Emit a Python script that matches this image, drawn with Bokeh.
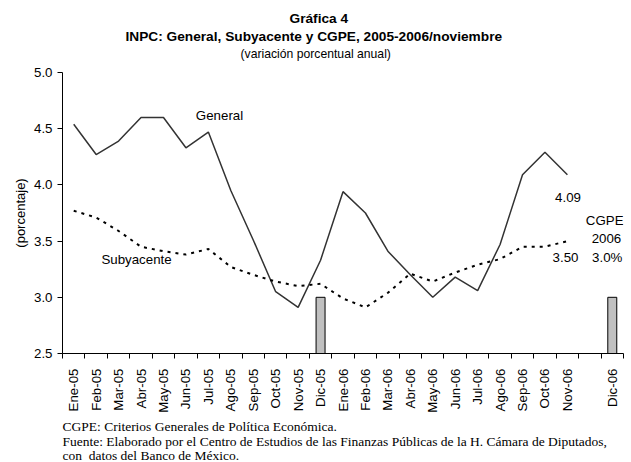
import math
from bokeh.plotting import figure
from bokeh.models import Range1d, FixedTicker, Label, PrintfTickFormatter, Title
from bokeh.embed import file_html
from bokeh.resources import INLINE

# ---------------- data ----------------
meses = ["Ene-05", "Feb-05", "Mar-05", "Abr-05", "May-05", "Jun-05", "Jul-05",
         "Ago-05", "Sep-05", "Oct-05", "Nov-05", "Dic-05",
         "Ene-06", "Feb-06", "Mar-06", "Abr-06", "May-06", "Jun-06", "Jul-06",
         "Ago-06", "Sep-06", "Oct-06", "Nov-06", "", "Dic-06"]
general = [4.54, 4.27, 4.39, 4.60, 4.60, 4.33, 4.47, 3.95, 3.51, 3.05, 2.91, 3.33,
           3.94, 3.75, 3.41, 3.20, 3.00, 3.18, 3.06, 3.47, 4.09, 4.29, 4.09]
subyacente = [3.77, 3.71, 3.59, 3.45, 3.41, 3.38, 3.43, 3.27, 3.20, 3.14, 3.10, 3.12,
              2.99, 2.91, 3.04, 3.21, 3.14, 3.22, 3.29, 3.34, 3.45, 3.45, 3.50]
cgpe_meses = ["Dic-05", "Dic-06"]
cgpe = [3.0, 3.0]
y_ticks = [2.5, 3.0, 3.5, 4.0, 4.5, 5.0]

# ---------------- geometry helpers (picture px -> data) ----------------
FR_L, FR_B, W_FR, H_FR = 62.0, 353.0, 561.0, 281.0
NX = len(meses)
Y0, Y1 = 2.5, 5.0
def dx(px):
    return (px - FR_L) / (W_FR / NX)
def dy(py):
    return Y0 + (FR_B - py) / (H_FR / (Y1 - Y0))

FONT = "Liberation Sans"
SERIF = "Liberation Serif"
FS = "13.3px"

p = figure(width=631, height=462, output_backend="svg", toolbar_location=None,
           x_range=Range1d(0, NX), y_range=Range1d(Y0, Y1),
           min_border_left=62, min_border_right=8, min_border_top=72, min_border_bottom=109)
p.outline_line_color = None
p.xgrid.visible = False
p.ygrid.visible = False
p.background_fill_color = "white"
p.border_fill_color = "white"

xs_gen = [i + 0.5 for i in range(len(general))]
xs_sub = [i + 0.5 for i in range(len(subyacente))]
xs_cgpe = [meses.index(m) + 0.5 for m in cgpe_meses]

p.vbar(x=xs_cgpe, top=cgpe, bottom=Y0, width=0.4, fill_color="#C0C0C0",
       line_color="black", line_width=1)
p.line(xs_gen, general, line_color="#333333", line_width=1.5)
p.line(xs_sub, subyacente, line_color="black", line_width=2, line_dash="3 5")

# x axis
xt = [i + 0.5 for i, m in enumerate(meses) if m]
p.xaxis.ticker = FixedTicker(ticks=xt, minor_ticks=list(range(NX + 1)))
p.xaxis.major_label_overrides = {i + 0.5: m for i, m in enumerate(meses) if m}
p.xaxis.major_label_orientation = math.pi / 2
p.xaxis.major_tick_line_color = None
p.xaxis.major_tick_out = 0
p.xaxis.major_tick_in = 0
p.xaxis.minor_tick_out = 5
p.xaxis.minor_tick_in = 0
p.xaxis.minor_tick_line_color = "black"
p.xaxis.major_label_standoff = 10
p.xaxis.major_label_text_font = FONT
p.xaxis.major_label_text_font_size = FS
p.xaxis.major_label_text_color = "black"
p.xaxis.axis_line_color = "black"

# y axis
p.yaxis.ticker = FixedTicker(ticks=y_ticks, minor_ticks=[])
p.yaxis.formatter = PrintfTickFormatter(format="%.1f")
p.yaxis.major_tick_out = 5
p.yaxis.major_tick_in = 0
p.yaxis.major_tick_line_color = "black"
p.yaxis.axis_line_color = "black"
p.yaxis.major_label_text_font = FONT
p.yaxis.major_label_text_font_size = FS
p.yaxis.major_label_text_color = "black"
p.yaxis.major_label_standoff = 5
p.yaxis.axis_label = "(porcentaje)"
p.yaxis.axis_label_text_font = FONT
p.yaxis.axis_label_text_font_size = "13px"
p.yaxis.axis_label_text_font_style = "normal"
p.yaxis.axis_label_text_color = "black"
p.yaxis.axis_label_standoff = 3

def lab(x, y, text, align="center"):
    p.add_layout(Label(x=x, y=y, text=text, text_font=FONT, text_font_size=FS,
                       text_align=align, text_baseline="middle", text_color="black"))

# annotations inside the plot
lab(dx(219), dy(115), "General")
lab(dx(136), dy(259), "Subyacente")
lab(dx(567.5), dy(197), f"{general[-1]:.2f}")
lab(dx(565), dy(257), f"{subyacente[-1]:.2f}")
lab(NX, dy(220), "CGPE", align="right")
lab(NX - 0.1, dy(238), "2006", align="right")
lab(NX - 0.05, dy(257), f"{cgpe[-1]:.1f}%", align="right")

# titles (first added = closest to the plot)
def title(text, where, style="normal", font=FONT, size=FS, align="left", standoff=0.0, offset=0):
    p.add_layout(Title(text=text, align=align, text_font=font, text_font_size=size,
                       text_font_style=style, text_color="black", standoff=standoff,
                       offset=offset), where)

title(" ", "above", size="8px", standoff=0.0)  # spacer between plot and subtitle
title("(variación porcentual anual)", "above", size="12.2px", standoff=0.6, offset=178)
title("INPC: General, Subyacente y CGPE, 2005-2006/noviembre", "above", style="bold",
      size="13.7px", standoff=1.6, offset=63)
title("Gráfica 4", "above", style="bold", size="13.7px", standoff=-0.6, offset=227)

# footer
title("CGPE: Criterios Generales de Política Económica.", "below", font=SERIF,
      size="13.5px", standoff=1.8)
title("Fuente: Elaborado por el Centro de Estudios de las Finanzas Públicas de la H. Cámara de Diputados,",
      "below", font=SERIF, size="13.5px", standoff=-6.4)
title("con\u00a0 datos del Banco de México.", "below", font=SERIF, size="13.5px",
      standoff=0.0)

open("out.html", "w").write(file_html(p, INLINE))
